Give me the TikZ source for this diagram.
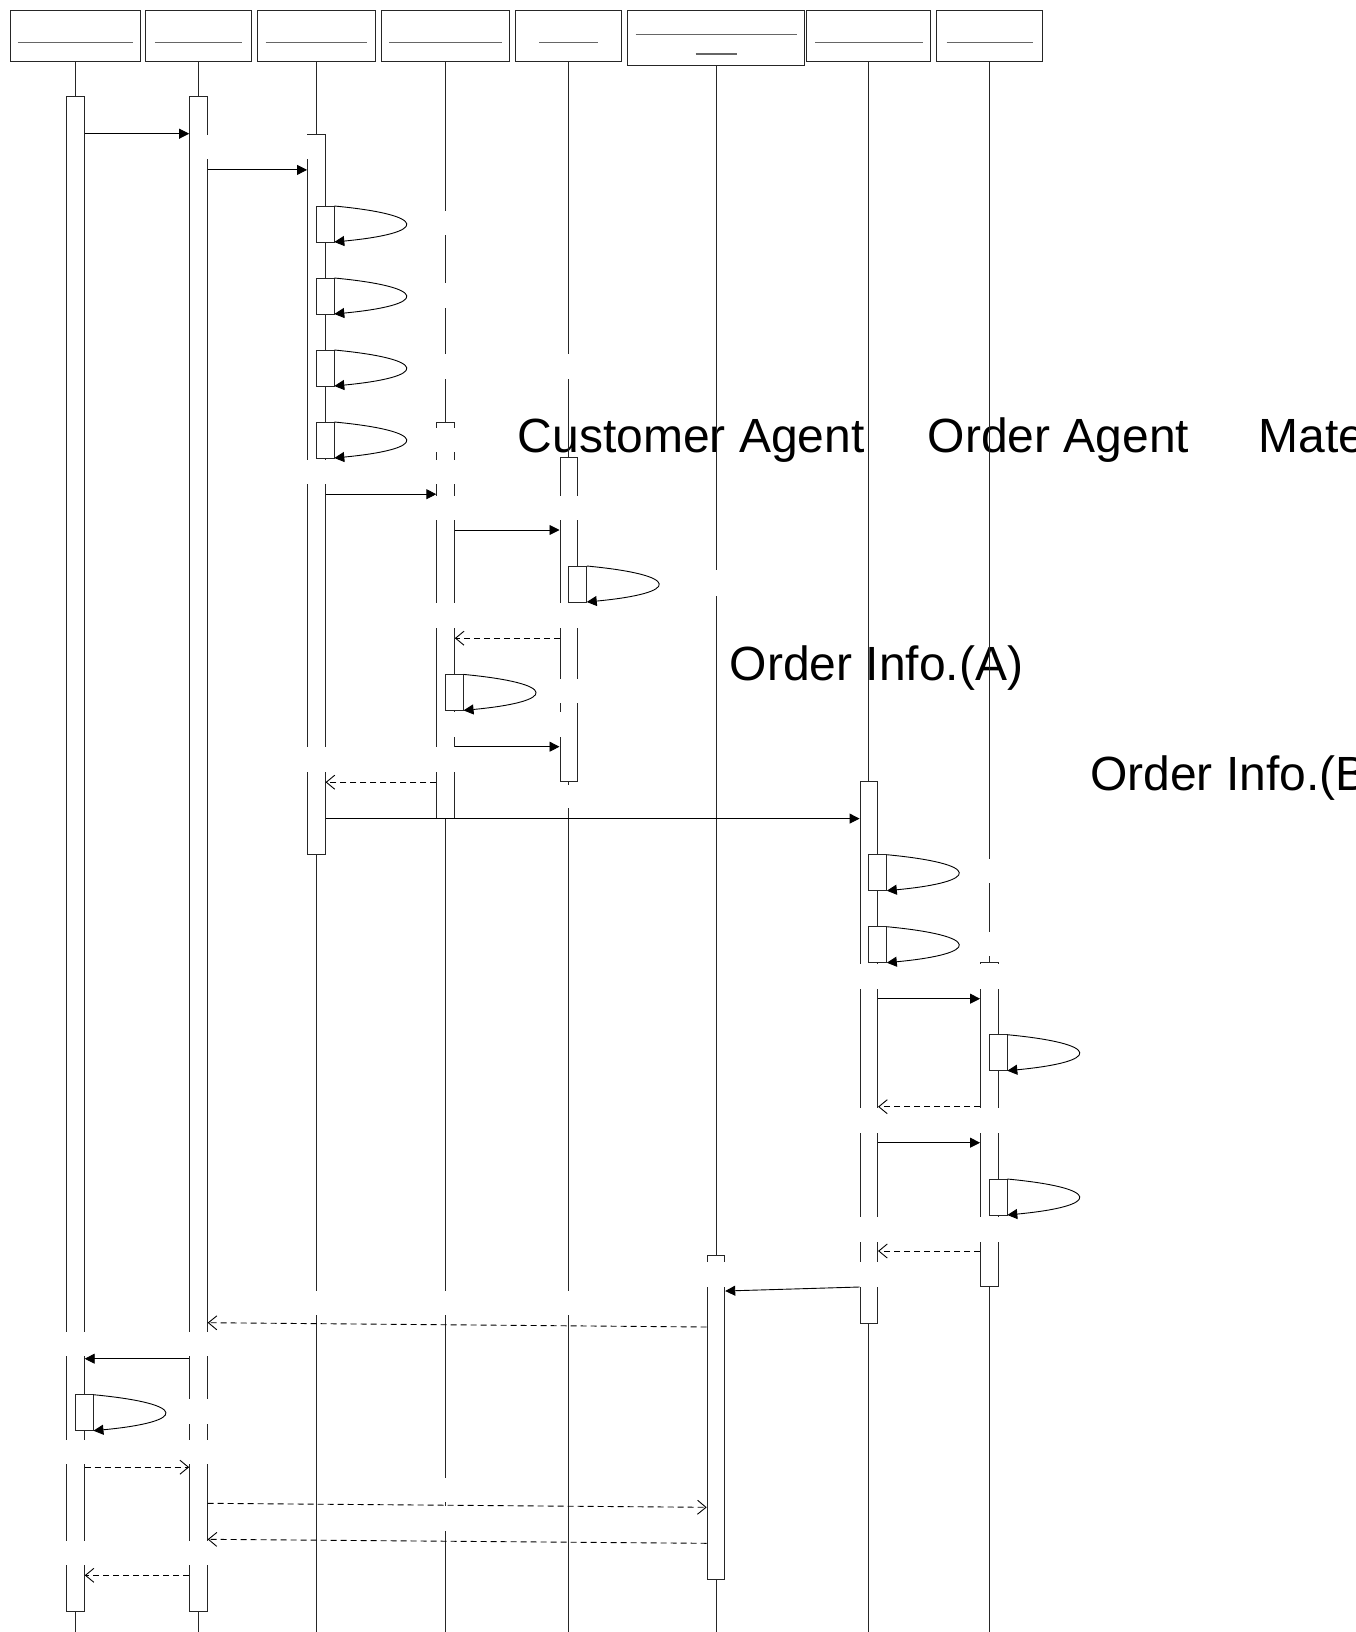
\documentclass[tikz,border=0pt]{standalone}
\usepackage{fontspec}
\setmainfont{Liberation Sans}
\usetikzlibrary{arrows.meta}
\newcommand\sqselfcall[2]{%
  \draw[selfbox] (#1,#2) rectangle (#1+18,#2+36);
  \draw[sync] (#1+18,#2) .. controls (#1+113,#2+9) and (#1+113,#2+27) .. (#1+18,#2+36);
}
\begin{document}
\begin{tikzpicture}[x=1pt,y=-1pt,
  hbox/.style={draw=black!85, line width=0.9pt, fill=white, inner sep=0pt},
  uline/.style={draw=black!60, line width=1.3pt},
  life/.style={draw=black!85, line width=0.9pt},
  bar/.style={draw=black!85, fill=white, line width=0.9pt, minimum width=17.6pt, inner sep=0pt},
  gap/.style={fill=white, draw=none},
  sync/.style={draw=black, line width=0.9pt, -{Triangle[length=10pt,width=10pt]}},
  ret/.style={draw=black, line width=0.9pt, dash pattern=on 6pt off 4pt, -{Straight Barb[length=8.5pt,width=14pt]}},
  selfbox/.style={draw=black!85, fill=white, line width=0.9pt},
  lbl/.style={font=\fontsize{48}{57}\selectfont, anchor=base west, inner sep=0pt},
]
\useasboundingbox (0,0) rectangle (1356,1632);
\clip (0,0) rectangle (1356,1632);
\fill[white] (0,0) rectangle (1356,1632);

% header boxes
\node[hbox, minimum width=130.3pt, minimum height=50.6pt] (h1) at (75.45,36) {};
\node[hbox, minimum width=105.8pt, minimum height=50.6pt] (h2) at (198.4,36) {};
\node[hbox, minimum width=117.4pt, minimum height=50.6pt] (h3) at (316.3,36) {};
\node[hbox, minimum width=128.5pt, minimum height=50.6pt] (h4) at (445.55,36) {};
\node[hbox, minimum width=106.3pt, minimum height=50.6pt] (h5) at (568.75,36) {};
\node[hbox, minimum width=176.9pt, minimum height=54.9pt] (h6) at (715.95,38.25) {};
\node[hbox, minimum width=124pt, minimum height=50.6pt] (h7) at (868.8,36) {};
\node[hbox, minimum width=106.6pt, minimum height=50.6pt] (h8) at (989.3,36) {};
\draw[uline] (17.9,42.3) -- (133,42.3);
\draw[uline] (154.9,42.3) -- (241.5,42.3);
\draw[uline] (265.6,42.3) -- (367.4,42.3);
\draw[uline] (389.3,42.3) -- (501.8,42.3);
\draw[uline] (539.3,42.3) -- (598.2,42.3);
\draw[uline] (635.7,34.7) -- (796.7,34.7);
\draw[uline] (695.5,54) -- (736.5,54);
\draw[uline] (815,42.7) -- (922.6,42.7);
\draw[uline] (946.7,42.7) -- (1032.5,42.7);

% free texts
\node[lbl] (t1) at (517.6,452) {Customer Agent};
\node[lbl] (t2) at (927.7,452) {Order Agent};
\node[lbl] (t3) at (1258.5,452) {Mate};
\node[lbl] (t4) at (729.5,680.5) {Order Info.(A)};
\node[lbl] (t5) at (1090,790) {Order Info.(B};

% lifelines
\foreach \h in {h1,h2,h3,h4,h5,h6,h7,h8}
  \draw[life] (\h.south) -- (\h |- 0,1632);

% activation bars
\node[bar, minimum height=1514.7pt] (a1) at (h1 |- 0,854.15) {};
\node[bar, minimum height=1514.7pt] (a2) at (h2 |- 0,854.15) {};
\node[bar, minimum height=720.2pt] (a3) at (h3 |- 0,494.1) {};
\node[bar, minimum height=396.4pt] (a4) at (h4 |- 0,620.5) {};
\node[bar, minimum height=324pt] (a5) at (h5 |- 0,619.8) {};
\node[bar, minimum height=324.3pt] (a6) at (h6 |- 0,1417.15) {};
\node[bar, minimum height=541.5pt] (a7) at (h7 |- 0,1052.55) {};
\node[bar, minimum height=324.1pt] (a8) at (h8 |- 0,1124.65) {};

% blank label areas
\fill[gap] (200,134.8) rectangle (313,158.9);
\fill[gap] (410,211.2) rectangle (460,235.3);
\fill[gap] (410,282.8) rectangle (460,307.6);
\fill[gap] (410,354) rectangle (580,379.3);
\fill[gap] (410,427.5) rectangle (460,451.7);
\fill[gap] (300,460.2) rectangle (462,484.3);
\fill[gap] (430,496.3) rectangle (585,519.7);
\fill[gap] (600,570.4) rectangle (725,595.5);
\fill[gap] (430,603) rectangle (585,628);
\fill[gap] (540,678.5) rectangle (585,703);
\fill[gap] (450,711.5) rectangle (565,737);
\fill[gap] (300,747.4) rectangle (462,771.5);
\fill[gap] (540,785) rectangle (600,808);
\fill[gap] (960,859.3) rectangle (1000,883.4);
\fill[gap] (960,931.6) rectangle (1000,955.7);
\fill[gap] (850,964.4) rectangle (1005,988.5);
\fill[gap] (850,1108.3) rectangle (1005,1133.3);
\fill[gap] (850,1216.7) rectangle (1005,1241.7);
\fill[gap] (700,1261.7) rectangle (885,1286.5);
\fill[gap] (250,1290.7) rectangle (700,1315.3);
\fill[gap] (60,1331.7) rectangle (212,1356);
\fill[gap] (185,1399.3) rectangle (212,1424);
\fill[gap] (60,1440) rectangle (212,1464);
\fill[gap] (430,1477.7) rectangle (460,1502);
\fill[gap] (430,1506) rectangle (460,1531);
\fill[gap] (60,1540.7) rectangle (212,1565);

% self calls
\sqselfcall{316.3}{206}
\sqselfcall{316.3}{278}
\sqselfcall{316.3}{350}
\sqselfcall{316.3}{422}
\sqselfcall{568.75}{566}
\sqselfcall{445.55}{674.4}
\sqselfcall{868.8}{854.7}
\sqselfcall{868.8}{926.7}
\sqselfcall{989.3}{1034.7}
\sqselfcall{989.3}{1179}
\sqselfcall{75.45}{1394.7}

% messages
\draw[sync] (a1.east |- 0,133.7) -- (a2.west |- 0,133.7);
\draw[sync] (a2.east |- 0,169.9) -- (a3.west |- 0,169.9);
\draw[sync] (a3.east |- 0,494.2) -- (a4.west |- 0,494.2);
\draw[sync] (a4.east |- 0,530) -- (a5.west |- 0,530);
\draw[ret] (a5.west |- 0,638.2) -- (a4.east |- 0,638.2);
\draw[sync] (a4.east |- 0,746.7) -- (a5.west |- 0,746.7);
\draw[ret] (a4.west |- 0,782.2) -- (a3.east |- 0,782.2);
\draw[sync] (a3.east |- 0,818.6) -- (a7.west |- 0,818.6);
\draw[sync] (a7.east |- 0,998.7) -- (a8.west |- 0,998.7);
\draw[ret] (a8.west |- 0,1106.7) -- (a7.east |- 0,1106.7);
\draw[sync] (a7.east |- 0,1142.7) -- (a8.west |- 0,1142.7);
\draw[ret] (a8.west |- 0,1251) -- (a7.east |- 0,1251);
\draw[sync] (a7.west |- 0,1287) -- (a6.east |- 0,1291);
\draw[ret] (a6.west |- 0,1327) -- (a2.east |- 0,1322.7);
\draw[sync] (a2.west |- 0,1358.7) -- (a1.east |- 0,1358.7);
\draw[ret] (a1.east |- 0,1467.2) -- (a2.west |- 0,1467.2);
\draw[ret] (a2.east |- 0,1503.3) -- (a6.west |- 0,1507.3);
\draw[ret] (a6.west |- 0,1543.3) -- (a2.east |- 0,1539.3);
\draw[ret] (a2.west |- 0,1575.3) -- (a1.east |- 0,1575.3);
\end{tikzpicture}
\end{document}
